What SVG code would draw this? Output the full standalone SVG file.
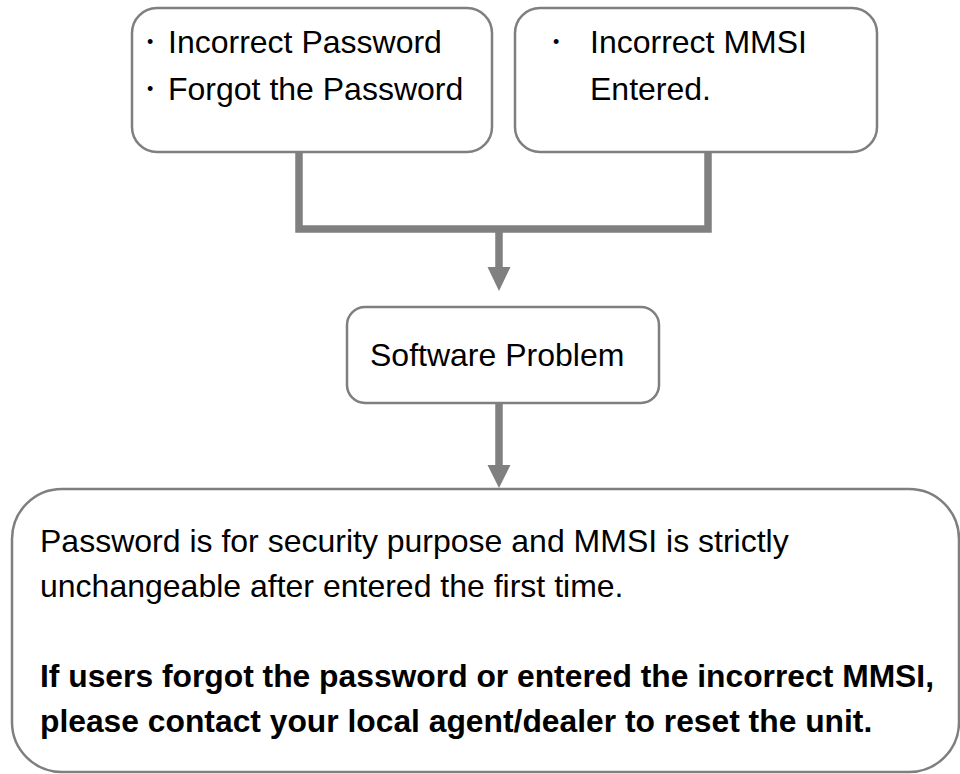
<svg xmlns="http://www.w3.org/2000/svg" width="960" height="774" viewBox="0 0 960 774">
<style>
.box{fill:#fff;stroke:#7f7f7f;stroke-width:2.5}
.t{font-family:"Liberation Sans",Arial,sans-serif;font-size:32px;fill:#000}
.b{font-weight:bold;font-size:31.8px}
.bul{font-family:"Liberation Sans",Arial,sans-serif;font-size:18px;fill:#000}
.conn{fill:none;stroke:#808080;stroke-width:7.5;stroke-linecap:butt;stroke-linejoin:miter}
.head{fill:#808080}
</style>
<rect width="960" height="774" fill="#fff"/>
<g id="connectors">
<path class="conn" d="M299,150 V229 H708 V150"/>
<path class="conn" d="M499,229 V268"/>
<polygon class="head" points="487.5,267 510.5,267 499,291"/>
<path class="conn" d="M499,403 V466"/>
<polygon class="head" points="487.5,465 510.5,465 499,488"/>
</g>
<g id="node-password">
<rect class="box" x="132" y="8" width="360" height="144" rx="25"/>
<text class="bul" x="147" y="48">•</text>
<text class="t" x="168" y="53">Incorrect Password</text>
<text class="bul" x="147" y="95">•</text>
<text class="t" x="168" y="100">Forgot the Password</text>
</g>
<g id="node-mmsi">
<rect class="box" x="515" y="8" width="362" height="144" rx="25"/>
<text class="bul" x="553" y="48">•</text>
<text class="t" x="590" y="53">Incorrect MMSI</text>
<text class="t" x="590" y="100">Entered.</text>
</g>
<g id="node-software">
<rect class="box" x="347" y="307" width="312" height="96" rx="18"/>
<text class="t" x="370" y="366">Software Problem</text>
</g>
<g id="node-note">
<rect class="box" x="12" y="489" width="947" height="283" rx="50"/>
<text class="t" x="40" y="552">Password is for security purpose and MMSI is strictly</text>
<text class="t" x="40" y="597">unchangeable after entered the first time.</text>
<text class="t b" x="40" y="687">If users forgot the password or entered the incorrect MMSI,</text>
<text class="t b" x="40" y="732">please contact your local agent/dealer to reset the unit.</text>
</g>
</svg>
